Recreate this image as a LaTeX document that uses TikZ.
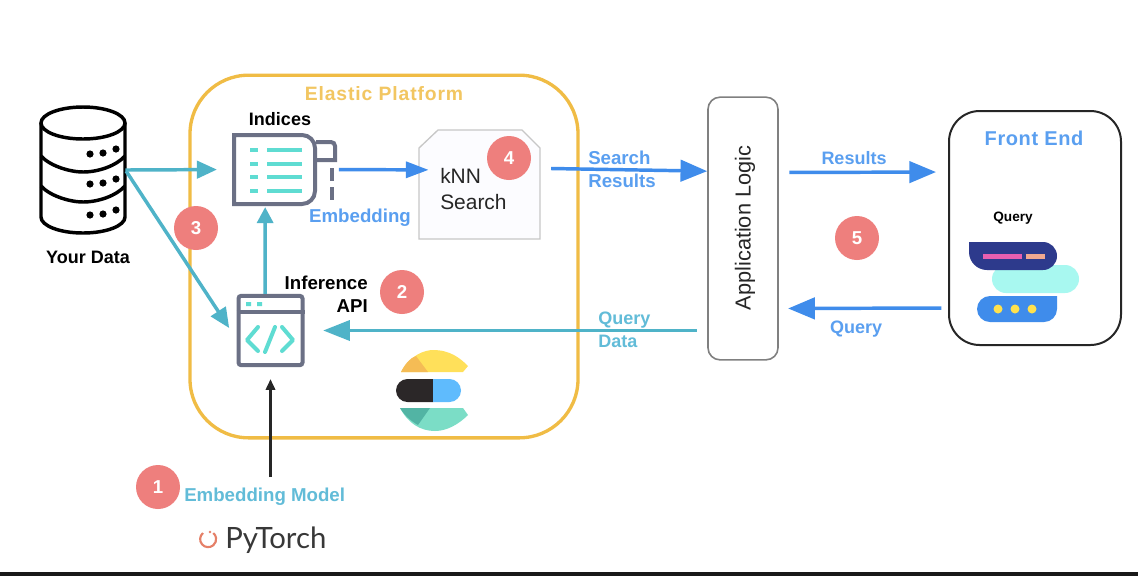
\documentclass[tikz,border=0pt]{standalone}
\usepackage{fontspec}
\setmainfont{Liberation Sans}
\newfontfamily\lato{Lato}
\usetikzlibrary{arrows.meta,calc}
\definecolor{amber}{HTML}{F0BC45}
\definecolor{tealc}{HTML}{4FB3C8}
\definecolor{bluec}{HTML}{3F8CEB}
\definecolor{bluetext}{HTML}{5A9FF0}
\definecolor{tealtext}{HTML}{62BCD8}
\definecolor{badgec}{HTML}{EE7F7D}
\definecolor{slatec}{HTML}{6B7085}
\definecolor{mintc}{HTML}{5FDCD2}
\definecolor{navyc}{HTML}{2D3A8C}
\definecolor{cyanc}{HTML}{A8F8F0}
\definecolor{yellowc}{HTML}{FFE14D}
\definecolor{pinkc}{HTML}{E85FB0}
\definecolor{peachc}{HTML}{F0A890}
\definecolor{logoyellow}{HTML}{FFE05A}
\definecolor{logoorange}{HTML}{F5BC55}
\definecolor{logoblack}{HTML}{2B2728}
\definecolor{logoblue}{HTML}{5FBBFD}
\definecolor{logoteal}{HTML}{7BDDC6}
\definecolor{logodark}{HTML}{52B4A4}
\definecolor{torchc}{HTML}{E58068}
\newcommand{\fsz}[1]{\fontsize{#1}{#1}\selectfont}
\tikzset{
  x=0.75pt,y=-0.75pt,
  badge/.style={circle,fill=badgec,text=white,inner sep=0pt,minimum size=33pt,font=\fsz{14}\bfseries},
  tealarrow/.style={draw=tealc,line width=2.6pt,-{Triangle[length=15pt,width=13pt]}},
  bluearrow/.style={draw=bluec,line width=2.6pt,-{Triangle[length=20pt,width=16pt]}},
  dbline/.style={draw=black,line width=2.6pt},
  iconline/.style={draw=slatec,line width=3pt},
  mintline/.style={draw=mintc,line width=2.4pt},
  lbl/.style={inner sep=0pt,font=\fsz{13.5}\bfseries},
  bluelbl/.style={inner sep=0pt,text=bluetext,font=\fsz{13.5}\bfseries},
  teallbl/.style={inner sep=0pt,text=tealtext,font=\fsz{13.5}\bfseries},
}
\begin{document}
\begin{tikzpicture}
\useasboundingbox (0,0) rectangle (1138,576);
\fill[white] (0,0) rectangle (1138,576);
\fill[black!90] (0,572) rectangle (1138,576);

% Elastic platform
\node[draw=amber,line width=2.5pt,rounded corners=44pt,inner sep=0pt,minimum width=291pt,minimum height=272pt] (platform) at (384,256.5) {};
\node[inner sep=0pt,text=amber!85!white,font=\fsz{14.5}\bfseries] (ptitle) at (384,94) {\addfontfeature{LetterSpace=4.5}Elastic Platform};

% Database
\node[inner sep=0pt,minimum width=64pt,minimum height=94.5pt] (db) at (82.5,170) {};
\draw[dbline,fill=white] (41,123) -- (41,217) arc[start angle=180,end angle=0,x radius=42,y radius=16] -- (125,123);
\draw[dbline] (41,156) .. controls (50,166) and (70,172) .. (83,172) .. controls (98,172) and (116,166) .. (125,156);
\draw[dbline] (41,186) .. controls (50,196) and (70,202) .. (83,202) .. controls (98,202) and (116,196) .. (125,186);
\draw[dbline,fill=white] (83,123) ellipse[x radius=42,y radius=16];
\foreach \dy in {0,30,61}{
  \fill (90,{154+\dy}) circle[radius=3.6];
  \fill (103,{153+\dy}) circle[radius=3.6];
  \fill (116,{149+\dy}) circle[radius=3.6];
}
\node[lbl] (yourdata) at (88,257) {Your Data};

% Indices icon
\node[inner sep=0pt,minimum width=64pt,minimum height=55pt] (indices) at (274.5,169.5) {};
\draw[iconline] (234,135) -- (302,135) arc[start angle=-90,end angle=0,radius=13] -- (315,191) arc[start angle=0,end angle=90,radius=13] -- (234,204) -- cycle;
\draw[iconline] (316,142) -- (331,142) arc[start angle=-90,end angle=0,radius=4] -- (335,160) -- (317,160);
\draw[iconline] (332,168) -- (332,181);
\draw[iconline] (332,187) -- (332,200);
\foreach \yy in {150,164,177,191}{
  \draw[mintline] (250,\yy) -- (258,\yy);
  \draw[mintline] (267,\yy) -- (302,\yy);
}
\node[lbl] (indlabel) at (280,119) {Indices};

% API icon
\node[draw=slatec,line width=3pt,rounded corners=2pt,inner sep=0pt,minimum width=48pt,minimum height=52pt] (api) at (270.5,330.5) {};
\draw[iconline] (api.west |- 0,312) -- (api.east |- 0,312);
\fill[mintc] (246,302) rectangle (251,306) (257,302) rectangle (262,306);
\draw[mintline,line width=3pt,line cap=round,line join=round] (258,327) -- (247,340) -- (258,351);
\draw[mintline,line width=3pt,line cap=round,line join=round] (275,327) -- (265,352);
\draw[mintline,line width=3pt,line cap=round,line join=round] (282,327) -- (293,340) -- (282,351);
\node[lbl,font=\fsz{14}\bfseries,align=right,anchor=north east] (inflabel) at (368,276) {Inference\\[3pt]API};

% kNN
\path[draw=black!22,fill=blue!1,line width=1pt] (419,148) -- (438,130) -- (522,130) -- (540,148) -- (540,239) -- (419,239) -- cycle;
\node[inner sep=0pt,minimum width=91pt,minimum height=82pt] (knn) at (479.5,184.5) {};
\node[inner sep=0pt,align=left,anchor=north west,font=\fsz{15.7},text=black!85] (knntext) at (440,168) {kNN\\[4pt]Search};

% Application logic
\node[draw=black!50,fill=white,line width=1.2pt,rounded corners=9pt,inner sep=0pt,minimum width=52.5pt,minimum height=197pt] (logic) at (743,228.5) {};
\node[inner sep=0pt,rotate=90,font=\fsz{16.3},text=black!85] (logictext) at (745,228) {Application Logic};

% Front end
\node[draw=black!85,line width=1.5pt,rounded corners=23pt,inner sep=0pt,minimum width=129pt,minimum height=175.5pt] (front) at (1035,228) {};
\node[inner sep=0pt,text=bluetext,font=\fsz{15}\bfseries] (ftitle) at (1034,138) {\addfontfeature{LetterSpace=3}Front End};
\node[inner sep=0pt,font=\fsz{10.2}\bfseries] (fquery) at (1013,218) {Query};
\fill[cyanc] (1006,265) -- (1065,265) arc[start angle=-90,end angle=90,radius=14] -- (1006,293) arc[start angle=90,end angle=270,radius=14] -- cycle;
\fill[navyc] (969,242) -- (1043,242) arc[start angle=-90,end angle=90,radius=14] -- (987,270) arc[start angle=90,end angle=180,radius=18] -- cycle;
\fill[bluec] (990,296) -- (1057,296) -- (1057,309) arc[start angle=0,end angle=90,radius=13] -- (990,322) arc[start angle=90,end angle=270,radius=13] -- cycle;
\fill[pinkc] (983,254) rectangle (1022,259);
\fill[peachc] (1026,254) rectangle (1045,259);
\foreach \xx in {998,1015,1032}{\fill[yellowc] (\xx,309) circle[radius=4.5];}

% Elastic logo
\fill[logoyellow] (401,372) .. controls (410,355) and (425,350) .. (433,350) .. controls (450,350) and (460,358) .. (468,366) -- (463,372) -- cycle;
\fill[logoorange] (401,372) .. controls (405,364) and (410,358) .. (416,356) -- (428,372) -- cycle;
\fill[logoblack] (433,379) -- (407.5,379) arc[start angle=-90,end angle=-270,radius=11.5] -- (433,402) -- cycle;
\fill[logoblue] (433,379) -- (449.5,379) arc[start angle=-90,end angle=90,radius=11.5] -- (433,402) -- cycle;
\fill[logoteal] (400,408) -- (463,408) -- (468,415) .. controls (460,423) and (448,431) .. (435,431) .. controls (420,431) and (408,423) .. (400,408) -- cycle;
\fill[logodark] (400,408) -- (430,408) -- (418,425) .. controls (411,421) and (405,416) .. (400,408) -- cycle;

% Connectors
\draw[tealarrow,shorten >=11pt] (db.east) -- (indices.west);
\draw[tealarrow,shorten >=10pt,shorten <=1pt] (db.east) -- ([yshift=-6.5pt]api.west);
\draw[tealarrow,-{Triangle[length=12pt,width=12pt]}] ([xshift=-4.1pt]api.north) -- ([xshift=-7pt,yshift=-0.5pt]indices.south);
\draw[tealarrow,-{Triangle[length=20pt,width=15pt]},shorten >=14pt,shorten <=8pt] (logic.west |- api.east) -- (api.east);
\draw[-{Triangle[length=8pt,width=7pt]},draw=black!85,line width=1.7pt] ($(api.south)+(0,110)$) coordinate (modelin) -- ([yshift=-9pt]api.south);
\draw[bluearrow,shorten <=16pt,shorten >=-7.5pt,-{Triangle[length=17pt,width=12pt]}] (indices.east) -- ([yshift=11pt]knn.west);
\draw[bluearrow] ([yshift=12pt]knn.east) ++(8pt,0) -- ([yshift=43pt]logic.west);
\draw[bluearrow,shorten >=9pt,shorten <=8pt] ([yshift=42pt]logic.east) -- ([yshift=42pt]front.west);
\draw[bluearrow,shorten <=5pt,shorten >=7pt] ([yshift=-60pt]front.west) -- ([yshift=-60pt]logic.east);

% Labels on connectors
\node[bluelbl,font=\fsz{14}\bfseries] (emb) at (360,218) {Embedding};
\node[bluelbl,font=\fsz{14}\bfseries,align=left,anchor=north west] (sr) at (588,151) {Search\\[3pt]Results};
\node[bluelbl] (res) at (854,158) {Results};
\node[bluelbl] (qr) at (856,329) {Query};
\node[teallbl,align=left,anchor=north west] (qd) at (598,312) {Query\\[3.5pt]Data};
\node[teallbl,font=\fsz{14}\bfseries,anchor=west] (em) at (184,497) {Embedding Model};

% PyTorch
\draw[draw=torchc,line width=1.6pt] (203,533) arc[start angle=-130,end angle=-410,radius=8];
\fill[torchc] (210,532) circle[radius=1.3];
\node[inner sep=0pt,anchor=west,font=\lato\fsz{22},text=black!78] (pt) at (225,540) {PyTorch};

% Badges
\node[badge] (b1) at (158,487) {1};
\node[badge] (b2) at (402,292) {2};
\node[badge] (b3) at (196,228) {3};
\node[badge] (b4) at (509,158) {4};
\node[badge] (b5) at (857,238) {5};
\end{tikzpicture}
\end{document}
